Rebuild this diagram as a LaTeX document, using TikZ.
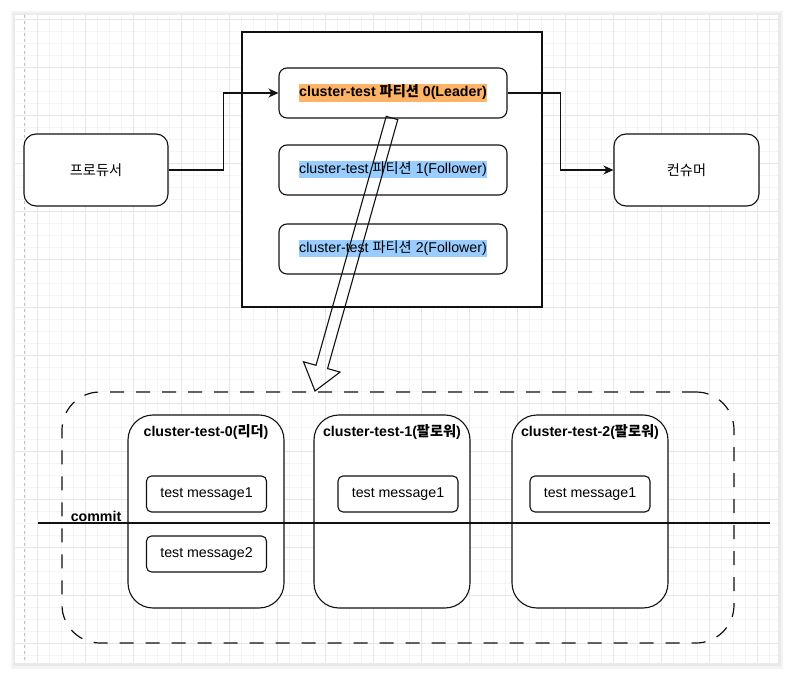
\documentclass[tikz,border=0pt]{standalone}
\usepackage{fontspec}
\setmainfont{Liberation Sans}
\newfontfamily\korfont{Noto Sans CJK KR}
\newcommand\kor[1]{{\korfont #1}}
\usetikzlibrary{arrows.meta,calc}
\definecolor{hlor}{HTML}{FFB366}
\definecolor{hlbl}{HTML}{99CCFF}
\definecolor{gridmin}{HTML}{F5F5F5}
\definecolor{gridmaj}{HTML}{E6E6E6}
\definecolor{shadowA}{HTML}{F4F4F4}
\definecolor{shadowB}{HTML}{EAEAEA}
\definecolor{ink}{HTML}{111111}
\newcommand\hl[2]{{\setlength\fboxsep{0pt}\colorbox{#1}{\strut #2}}}
\begin{document}
\begin{tikzpicture}[x=1pt,y=-1pt,
  font=\fontsize{14.2}{17}\selectfont,
  every node/.style={text=black},
  sqbox/.style={draw=ink, line width=1.1pt, fill=white, inner sep=0pt},
  rbox/.style={draw=ink, line width=1.1pt, fill=white, rounded corners=#1, inner sep=0pt},
  rbox/.default=8pt,
  conn/.style={draw=ink, line width=1.1pt, -{Stealth[length=10pt,width=9pt,inset=3pt]}},
  coltitle/.style={anchor=center, yshift=-18pt, font=\fontsize{14.2}{17}\selectfont\bfseries, inner sep=0pt},
  dashbox/.style={draw=ink, line width=1.2pt, dash pattern=on 14pt off 12pt, rounded corners=38pt, inner sep=0pt},
]
% background and page
\fill[white] (0,0) rectangle (793,679);
\fill[shadowA] (11,11) rectangle (783,669);
\fill[shadowB] (13,13) rectangle (781,666);
\fill[white] (15,15) rectangle (778,663);
\begin{scope}
\clip (15,15) rectangle (778,663);
\foreach \i in {0,...,64} {\draw[gridmin, line width=0.8pt] ({13+12*\i},15) -- ({13+12*\i},663);}
\foreach \i in {0,...,54} {\draw[gridmin, line width=0.8pt] (15,{7+12*\i}) -- (778,{7+12*\i});}
\foreach \i in {0,...,16} {\draw[gridmaj, line width=0.8pt] ({37+48*\i},15) -- ({37+48*\i},663);}
\foreach \i in {0,...,13} {\draw[gridmaj, line width=0.8pt] (15,{19+48*\i}) -- (778,{19+48*\i});}
\draw[gray!50, line width=0.8pt, dash pattern=on 3pt off 3pt] (24,15) -- (24,663);
\end{scope}

% top part
\node[sqbox, minimum width=300pt, minimum height=275pt] (topic) at (392,169.5) {};
\node[rbox, minimum width=228pt, minimum height=50pt] (p0) at (393,93)
  {\hl{hlor}{\bfseries cluster-test \kor{\bfseries 파티션} 0(Leader)}};
\node[rbox, minimum width=228pt, minimum height=50pt] (p1) at (393,170)
  {\hl{hlbl}{cluster-test \kor{파티션} 1(Follower)}};
\node[rbox, minimum width=228pt, minimum height=50pt] (p2) at (393,249)
  {\hl{hlbl}{cluster-test \kor{파티션} 2(Follower)}};
\node[rbox=12pt, minimum width=144pt, minimum height=72pt] (prod) at (96,170) {\kor{프로듀서}};
\node[rbox=12pt, minimum width=145pt, minimum height=72pt] (cons) at (686.5,170) {\kor{컨슈머}};

\draw[conn] (prod.east) -- ++(55,0) |- (p0.west);
\draw[conn] (p0.east) -- ++(53,0) |- (cons.west);

% bottom part
\node[dashbox, minimum width=672pt, minimum height=251pt] (brokers) at (398,517.5) {};
\node[rbox=25pt, minimum width=156pt, minimum height=193pt,
  label={[coltitle]north:cluster-test-0(\kor{\bfseries 리더})}] (c0) at (206,511.5) {};
\node[rbox=25pt, minimum width=156pt, minimum height=193pt,
  label={[coltitle]north:cluster-test-1(\kor{\bfseries 팔로워})}] (c1) at (392,511.5) {};
\node[rbox=25pt, minimum width=156pt, minimum height=193pt,
  label={[coltitle]north:cluster-test-2(\kor{\bfseries 팔로워})}] (c2) at (590,511.5) {};
\node[rbox=5pt, minimum width=120pt, minimum height=36pt] (m00) at (206.5,494) {test message1};
\node[rbox=5pt, minimum width=120pt, minimum height=36pt] (m01) at (206.5,554) {test message2};
\node[rbox=5pt, minimum width=120pt, minimum height=36pt] (m1) at (398,494) {test message1};
\node[rbox=5pt, minimum width=120pt, minimum height=36pt] (m2) at (590,494) {test message1};

\coordinate (cl) at (38,523);
\coordinate (cr) at (770,523);
\draw[ink, line width=1.1pt] (cl) -- (cr);
\node[font=\fontsize{14.2}{17}\selectfont\bfseries, inner sep=0pt] (commit) at (96,516) {commit};

% hollow flex arrow
\coordinate (fs) at (392,118);
\coordinate (fe) at (315,391);
\coordinate (hb) at ($(fe)!25pt!(fs)$);
\draw[ink, line width=1.1pt, line join=miter]
  ($(fs)!6pt!90:(fe)$) -- ($(hb)!6pt!-90:(fs)$) -- ($(hb)!19pt!-90:(fs)$) -- (fe)
  -- ($(hb)!19pt!90:(fs)$) -- ($(hb)!6pt!90:(fs)$) -- ($(fs)!6pt!-90:(fe)$) -- cycle;
\end{tikzpicture}
\end{document}
